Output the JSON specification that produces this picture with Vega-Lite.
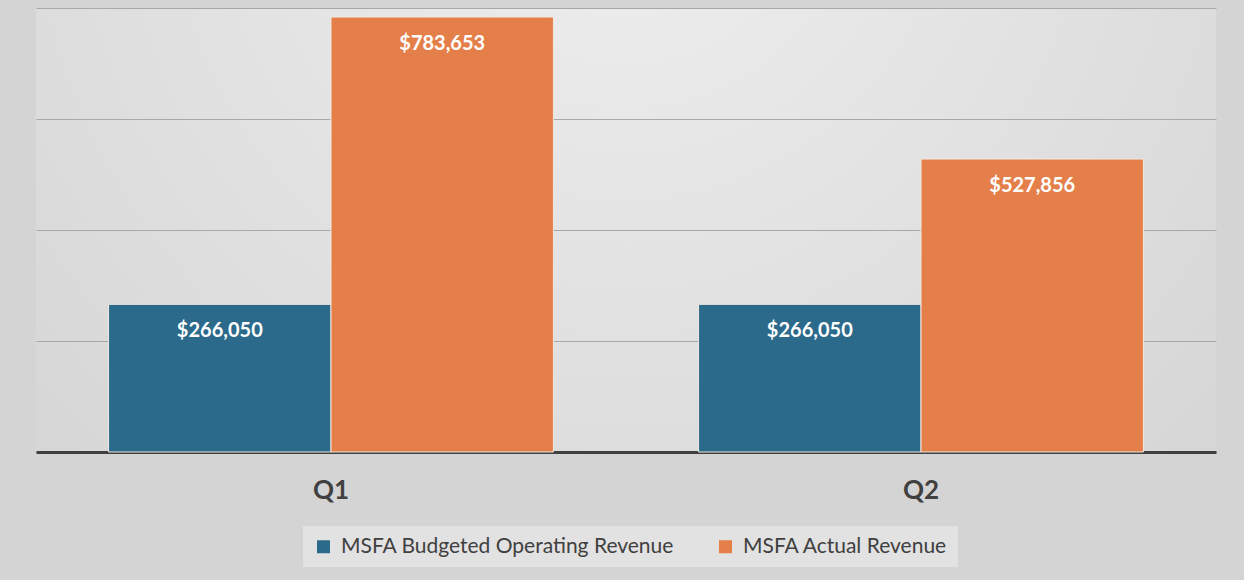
{
  "$schema": "https://vega.github.io/schema/vega-lite/v6.json",
  "width": 1180,
  "height": 444,
  "autosize": {"type": "none"},
  "padding": {"left": 36, "top": 8, "right": 28, "bottom": 128},
  "background": "#d4d4d4",
  "config": {
    "font": "Lato",
    "view": {
      "stroke": null,
      "fill": {
        "gradient": "radial",
        "x1": 0.5, "y1": 0.2, "r1": 0,
        "x2": 0.5, "y2": 0.2, "r2": 0.75,
        "stops": [
          {"offset": 0, "color": "#efefef"},
          {"offset": 1, "color": "#d4d4d4"}
        ]
      }
    }
  },
  "data": {
    "values": [
      {"quarter": "Q1", "series": "MSFA Budgeted Operating Revenue", "value": 266050},
      {"quarter": "Q1", "series": "MSFA Actual Revenue", "value": 783653},
      {"quarter": "Q2", "series": "MSFA Budgeted Operating Revenue", "value": 266050},
      {"quarter": "Q2", "series": "MSFA Actual Revenue", "value": 527856}
    ]
  },
  "encoding": {
    "x": {
      "field": "quarter",
      "type": "nominal",
      "scale": {"paddingInner": 0.246, "paddingOuter": 0.123},
      "axis": {
        "title": null,
        "labelAngle": 0,
        "labelFontSize": 26,
        "labelFontWeight": "bold",
        "labelColor": "#404040",
        "labelPadding": 25,
        "ticks": false,
        "domainColor": "#404040",
        "domainWidth": 3
      }
    },
    "xOffset": {
      "field": "series",
      "type": "nominal",
      "sort": ["MSFA Budgeted Operating Revenue", "MSFA Actual Revenue"],
      "scale": {"paddingInner": 0}
    },
    "y": {
      "field": "value",
      "type": "quantitative",
      "scale": {"domain": [0, 800000], "nice": false},
      "axis": {
        "title": null,
        "labels": false,
        "ticks": false,
        "domain": false,
        "grid": true,
        "gridColor": "#a8a8a8",
        "gridWidth": 1,
        "tickCount": 4
      }
    }
  },
  "layer": [
    {
      "mark": {"type": "bar", "stroke": "#f0e8e0", "strokeWidth": 1, "fillOpacity": 1},
      "encoding": {
        "color": {
          "field": "series",
          "type": "nominal",
          "sort": ["MSFA Budgeted Operating Revenue", "MSFA Actual Revenue"],
          "scale": {
            "domain": ["MSFA Budgeted Operating Revenue", "MSFA Actual Revenue"],
            "range": ["#2b6a8b", "#e57f4a"]
          },
          "legend": {
            "orient": "none",
            "legendX": 267,
            "legendY": 518,
            "direction": "horizontal",
            "title": null,
            "symbolType": "square",
            "symbolSize": 169,
            "symbolStrokeWidth": 0,
            "symbolOpacity": 1,
            "labelFontSize": 21,
            "labelColor": "#404040",
            "labelLimit": 400,
            "labelOffset": 7,
            "fillColor": "#e2e2e2",
            "padding": 10,
            "columnPadding": 40,
            "offset": 22
          }
        }
      }
    },
    {
      "mark": {"type": "text", "baseline": "middle", "dy": 27, "color": "white", "fontSize": 20, "fontWeight": "bold"},
      "encoding": {
        "text": {"field": "value", "type": "quantitative", "format": "$,.0f"}
      }
    }
  ]
}
